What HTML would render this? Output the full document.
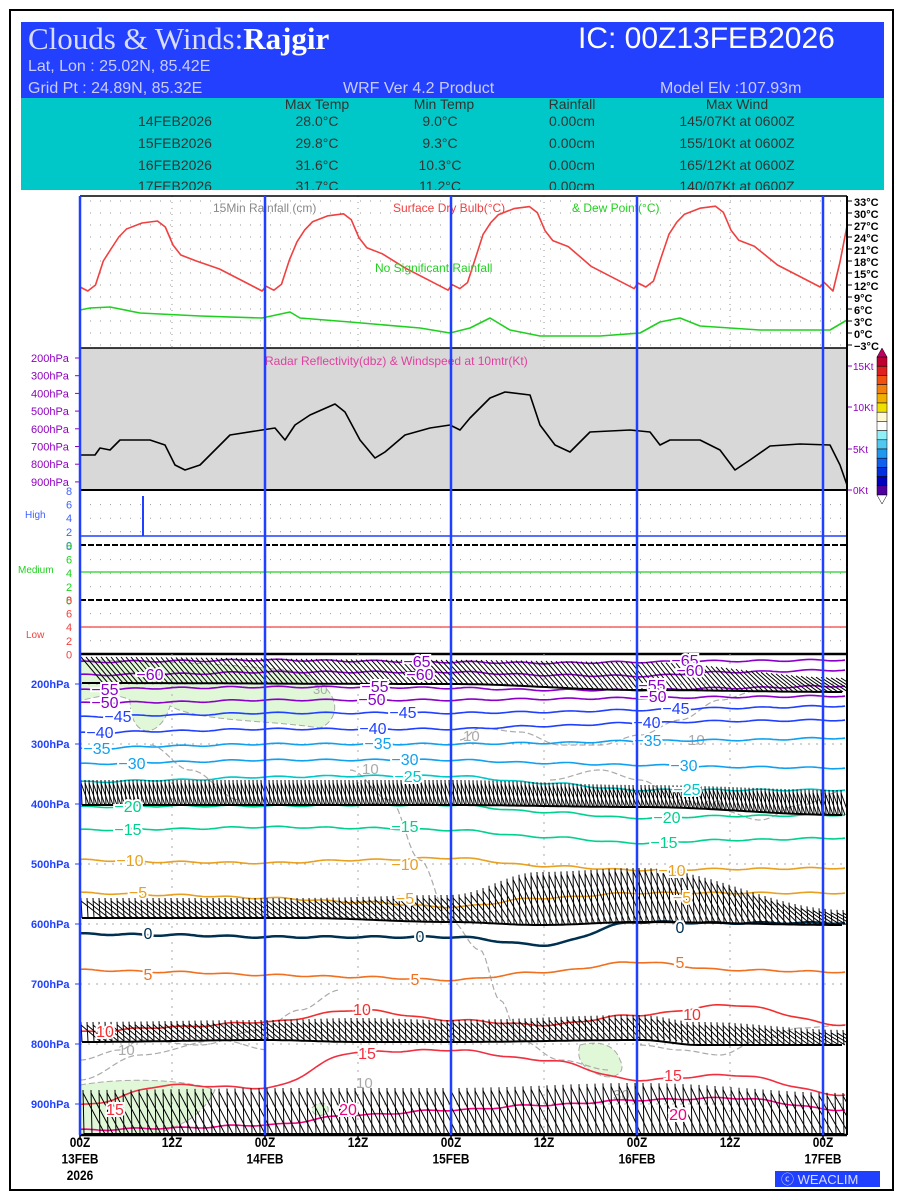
<!DOCTYPE html>
<html><head><meta charset="utf-8"><style>
html,body{margin:0;padding:0;background:#fff}
svg{display:block}
text{font-family:"Liberation Sans",sans-serif}
</style></head><body>
<svg id="s" width="900" height="1200" viewBox="0 0 900 1200" xmlns="http://www.w3.org/2000/svg">
<defs><clipPath id="cp"><rect x="80" y="654" width="767" height="481"/></clipPath></defs>
<rect x="0" y="0" width="900" height="1200" fill="#fff"/>
<rect x="10" y="10" width="883" height="1180" fill="none" stroke="#000" stroke-width="2"/>
<rect x="21" y="22" width="863" height="77" fill="#2340ff"/>
<rect x="21" y="98" width="863" height="92" fill="#00c8c8"/>
<text x="28" y="49" font-size="31" fill="#d8dcff" style="font-family:'Liberation Serif',serif">Clouds &amp; Winds:<tspan fill="#fff" font-weight="bold">Rajgir</tspan></text>
<text x="578" y="48" font-size="30" fill="#fff">IC: 00Z13FEB2026</text>
<g font-size="16" fill="#c8ccff">
<text x="28" y="71">Lat, Lon : 25.02N, 85.42E</text>
<text x="28" y="93">Grid Pt  : 24.89N, 85.32E</text>
<text x="343" y="93">WRF Ver 4.2 Product</text>
<text x="660" y="93">Model Elv :107.93m</text>
</g>
<g font-size="14" fill="#333" text-anchor="middle">
<text x="317" y="109">Max Temp</text><text x="444" y="109">Min Temp</text><text x="572" y="109">Rainfall</text><text x="737" y="109">Max Wind</text>
<text x="175" y="126">14FEB2026</text><text x="317" y="126">28.0°C</text><text x="440" y="126">9.0°C</text><text x="572" y="126">0.00cm</text><text x="737" y="126">145/07Kt at 0600Z</text>
<text x="175" y="148">15FEB2026</text><text x="317" y="148">29.8°C</text><text x="440" y="148">9.3°C</text><text x="572" y="148">0.00cm</text><text x="737" y="148">155/10Kt at 0600Z</text>
<text x="175" y="170">16FEB2026</text><text x="317" y="170">31.6°C</text><text x="440" y="170">10.3°C</text><text x="572" y="170">0.00cm</text><text x="737" y="170">165/12Kt at 0600Z</text>
<text x="175" y="191">17FEB2026</text><text x="317" y="191">31.7°C</text><text x="440" y="191">11.2°C</text><text x="572" y="191">0.00cm</text><text x="737" y="191">140/07Kt at 0600Z</text>
</g>
<rect x="21" y="190" width="863" height="6" fill="#fff"/>
<rect x="80" y="348" width="767" height="142" fill="#d8d8d8"/>
<g id="g"></g>
</svg>
<script>
var S=document.getElementById('g'),H='';
function pl(p,c,w,extra){var d='M'+p.map(function(q){return q[0].toFixed(1)+','+q[1].toFixed(1)}).join('L');H+='<path d="'+d+'" fill="none" stroke="'+c+'" stroke-width="'+w+'" stroke-linejoin="round" '+(extra||'')+'/>';}
function ln(a,b,c,d,col,w,ex){H+='<line x1="'+a.toFixed(1)+'" y1="'+b.toFixed(1)+'" x2="'+c.toFixed(1)+'" y2="'+d.toFixed(1)+'" stroke="'+col+'" stroke-width="'+w+'" '+(ex||'')+'/>';}
function tx(x,y,t,c,s,ex){H+='<text x="'+x+'" y="'+y+'" fill="'+c+'" font-size="'+s+'" '+(ex||'')+'>'+t+'</text>';}
function interp(xs,ys,x){for(var i=0;i<xs.length-1;i++){if(x<=xs[i+1]){var f=(x-xs[i])/(xs[i+1]-xs[i]);f=(1-Math.cos(f*Math.PI))/2;return ys[i]+f*(ys[i+1]-ys[i]);}}return ys[ys.length-1];}
function curve(xs,ys,c,w,wob,ex){var p=[];for(var x=xs[0];x<=xs[xs.length-1];x+=3){p.push([x,interp(xs,ys,x)+(wob?Math.sin(x*0.13)*wob:0)]);}pl(p,c,w,ex);}
var X0=80,PH=7.75;
for(var T=33;T>=-3;T-=3){var y=201+(33-T)*4;ln(80,y,847,y,'#999',1,'stroke-dasharray="1,9"');ln(847,y,852,y,'#000',1);tx(854,y+5,(T<0?'−':'')+Math.abs(T)+'°C','#000',11,'font-weight="bold"');}
[172,358,544,730].forEach(function(x){ln(x,196,x,348,'#999',1,'stroke-dasharray="1,5"');});
var tp=[];var mx=[28,29.8,31.6,31.7,31],mn=[10,10.2,10.6,11,11.2];
var sh=[[0,1.5,0],[1,0.5,0],[2,2,0],[3,8,0],[4,-7,1],[5,-4,1],[6,-2,1],[8,-0.5,1],[10,0,1],[11,-1.5,1],[12,-6,1],[13,-8.5,1],[15,-10,1],[18,6,0],[21,3,0],[23.5,0.5,0]];
for(var d=0;d<5;d++){sh.forEach(function(s){var h=d*24+s[0];if(h>96.5)return;var T=s[2]?mx[d]+s[1]:mn[d]+s[1];tp.push([X0+h*PH,201+(33-T)*4]);});}
tp.push([833,291]);tp.push([840,262]);tp.push([847,226]);
pl(tp,'#f04040',1.6);
var dw=[[80,310],[90,308],[110,307],[140,313],[200,316],[262,318],[290,312],[300,318],[350,322],[420,328],[450,333],[470,328],[490,318],[510,330],[540,336],[600,336],[640,333],[660,322],[680,318],[700,326],[760,330],[830,330],[847,320]];
pl(dw,'#20d020',1.6);
tx(213,212,'15Min Rainfall (cm)','#888',12);tx(393,212,'Surface Dry Bulb(°C)','#f04040',12);tx(572,212,'&amp; Dew Point(°C)','#20d020',12);
tx(375,272,'No Significant Rainfall','#20d020',12);
var py=['200hPa','300hPa','400hPa','500hPa','600hPa','700hPa','800hPa','900hPa'];
py.forEach(function(t,i){var y=358+i*17.7;tx(31,y+4,t,'#9000c0',11);ln(75,y,80,y,'#9000c0',1);});
[[0,490],[5,449],[10,407],[15,366]].forEach(function(a){ln(847,a[1],852,a[1],'#9000c0',1);tx(853,a[1]+4,a[0]+'Kt','#9000c0',10);});
tx(265,365,'Radar Reflectivity(dbz) &amp; Windspeed at 10mtr(Kt)','#e040a0',12);
var rd=[[80,455],[95,455],[100,448],[110,450],[120,440],[150,440],[165,445],[175,465],[185,470],[200,465],[215,450],[230,435],[262,430],[275,428],[285,440],[295,425],[310,415],[335,404],[345,412],[360,440],[375,458],[385,452],[405,435],[430,428],[450,425],[460,430],[470,418],[490,398],[505,392],[530,395],[540,425],[555,445],[570,452],[590,432],[630,430],[650,432],[660,445],[670,440],[700,440],[720,450],[735,470],[750,460],[770,446],[800,444],[830,445],[840,465],[847,485]];
pl(rd,'#000',1.6);
var cb=['#c00030','#e02020','#f05010','#f08010','#f0b000','#f0e000','#fff8d0','#fff','#90f0f8','#50c8f0','#2098f0','#1060f0','#0030e0','#0000c0','#5000a0'];
cb.forEach(function(c,i){H+='<rect x="877" y="'+(357+i*9.2)+'" width="10" height="9.2" fill="'+c+'" stroke="#000" stroke-width="0.5"/>';});
H+='<path d="M877,357 L882,348 L887,357Z" fill="#c00060" stroke="#000" stroke-width="0.5"/><path d="M877,495 L882,504 L887,495Z" fill="#fff" stroke="#000" stroke-width="0.5"/>';
function cpanel(y0,col,lab,ly){for(var v=8;v>=0;v-=2){var y=y0+(8-v)*6.8;tx(66,y+4,v,col,11);if(v>0&&v<8)ln(80,y,847,y,'#999',1,'stroke-dasharray="1,9"');}tx(ly[0],ly[1],lab,col,10);}
cpanel(491,'#4060ff','High',[25,518]);cpanel(546,'#20d020','Medium',[18,573]);cpanel(600,'#f04040','Low',[26,638]);
ln(80,536,847,536,'#2040ff',1.5);ln(143,496,143,536,'#2040ff',2);
ln(80,572,847,572,'#20d020',1.2);ln(80,627,847,627,'#f04040',1.2);
ln(80,545,847,545,'#000',2,'stroke-dasharray="6,2"');ln(80,600,847,600,'#000',2,'stroke-dasharray="6,2"');
ln(80,490,847,490,'#000',2);ln(80,654,847,654,'#000',2.5);ln(80,348,847,348,'#000',1.5);ln(80,196,847,196,'#000',1.5);
H+='<g clip-path="url(#cp)">';
H+='<path d="M80,660 C150,660 250,665 300,672 C345,690 340,720 320,728 C270,720 200,722 170,706 C160,740 130,740 130,700 C110,690 90,700 80,700Z" fill="#e0f8d8" stroke="#aaa" stroke-dasharray="6,3"/>';
H+='<path d="M80,1085 C120,1078 180,1078 215,1090 C205,1110 190,1125 150,1135 L80,1135Z" fill="#e0f8d8" stroke="#aaa" stroke-dasharray="6,3"/>';
H+='<path d="M580,1045 C600,1040 615,1045 620,1060 C628,1075 610,1080 600,1075 C585,1070 575,1060 580,1045Z" fill="#e0f8d8" stroke="#aaa" stroke-dasharray="6,3"/>';
H+='<path d="M312,1108 C318,1100 330,1102 328,1112 C322,1118 312,1116 312,1108Z" fill="#e0f8d8" stroke="#aaa" stroke-dasharray="6,3"/>';
var gd='#aaa';
curve([150,190,240,230,190,170,180,240],[745,770,800,850,880,920,980,1040],gd,1.2,0,'stroke-dasharray="6,3"');
curve([80,120,140,200,260,300,340],[1060,1050,1040,1045,1030,1010,990],gd,1.2,0,'stroke-dasharray="6,3"');
curve([350,390,420,450,480,500,520,560,610],[770,800,860,920,950,1000,1040,1060,1070],gd,1.2,0,'stroke-dasharray="6,3"');
curve([460,480,520,560,600,640,680,720,760],[740,728,732,745,745,735,720,700,690],gd,1.2,0,'stroke-dasharray="6,3"');
curve([550,600,640,680,720,760,800,847],[780,770,780,800,810,820,805,790],gd,1.2,0,'stroke-dasharray="6,3"');
curve([640,680,720,760,800,847],[1045,1050,1055,1040,1028,1025],gd,1.2,0,'stroke-dasharray="6,3"');
curve([80,140,220,270],[1080,1055,1040,1050],gd,1.2,0,'stroke-dasharray="6,3"');
tx(118,1055,'10','#aaa',15);tx(356,1088,'10','#aaa',15);tx(463,741,'10','#aaa',15);tx(362,774,'10','#aaa',15);tx(688,745,'10','#aaa',15);tx(705,810,'10','#aaa',15);tx(613,1100,'30','#aaa',15);tx(313,694,'30','#aaa',13);
H+='</g>';
for(var i=0;i<8;i++){var y=684+i*60;ln(80,y,847,y,'#aaa',1,'stroke-dasharray="2,6"');tx(31,y+4,(i+2)+'00hPa','#2040ff',11,'font-weight="bold"');ln(75,y,80,y,'#2040ff',1);}
[172,358,544,730].forEach(function(x){ln(x,654,x,1135,'#aaa',1,'stroke-dasharray="2,6"');});
var XS=[80,172,265,358,451,544,637,730,847];
var iso=[
['-65','#8a00c8',[662,661,660,661,662,663,662,661,660]],
['-60','#8a00c8',[675,674,672,672,672,675,676,672,670]],
['-55','#8a00c8',[690,688,687,687,688,690,690,688,686]],
['-50','#8a00c8',[703,702,700,700,700,699,698,697,696]],
['-45','#2040ff',[717,715,713,713,713,712,710,708,706]],
['-40','#2040ff',[733,731,729,729,729,726,723,721,720]],
['-35','#10a0f0',[749,746,744,744,744,743,741,740,738]],
['-30','#10a0f0',[764,762,760,760,760,763,765,767,768]],
['-25','#00c8c8',[782,780,777,776,776,783,790,790,790]],
['-20','#00d090',[807,806,806,805,805,812,818,816,815]],
['-15','#00d090',[830,829,827,828,830,837,843,840,838]],
['-10','#e8a020',[860,862,863,860,858,866,870,869,868]],
['-5','#e8a020',[893,895,898,902,907,898,893,893,893]],
['0','#003050',[934,935,937,937,937,945,922,923,923]],
['5','#f07020',[970,972,975,977,980,972,962,970,972]],
['10','#f03030',[1032,1027,1022,1010,1020,1025,1015,1005,1025]],
['15','#f03040',[1105,1085,1088,1052,1050,1060,1080,1075,1095]],
['20','#f00080',[1130,1128,1125,1115,1110,1105,1100,1098,1110]]];
H+='<g clip-path="url(#cp)">';
iso.forEach(function(a){curve(XS,a[2],a[1],a[0]=='0'?2.5:1.6,0.8);});
function band(xa,xb,top,bot,step,slant,staff){for(var x=xa;x<=xb;x+=step){var yt=interp(top[0],top[1],x),yb=interp(bot[0],bot[1],x);if(staff)ln(x,yb,x-1,yt,'#000',1);ln(x-1,yt+(staff?3:0),x-1+slant,yb,'#000',1);}var p=[];for(var x=xa;x<=xb;x+=4)p.push([x,interp(bot[0],bot[1],x)]);pl(p,'#000',2);}
band(82,845,[[80,450,640,847],[657,660,662,678]],[[80,450,640,847],[683,684,690,692]],5,22,0);
band(82,845,[[80,450,640,847],[780,780,785,790]],[[80,450,640,847],[805,805,807,815]],4,8,1);
band(82,845,[[80,300,451,540,640,847],[898,898,895,872,868,910]],[[80,300,451,540,640,847],[918,918,922,925,922,925]],6,22,1);
band(82,845,[[80,265,360,451,640,700,847],[1022,1020,1018,1020,1015,1022,1030]],[[80,265,360,451,640,700,847],[1042,1040,1042,1042,1040,1045,1045]],6,20,1);
band(84,845,[[80,300,451,640,847],[1090,1088,1088,1083,1093]],[[80,300,451,640,847],[1134,1134,1134,1134,1134]],8,22,1);
H+='</g>';
var labs={'-65':[[417,667],[685,666]],'-60':[[150,680],[420,680],[690,676]],'-55':[[105,695],[375,692],[652,691]],'-50':[[105,708],[372,705],[653,702]],'-45':[[118,722],[403,718],[676,714]],'-40':[[100,738],[373,734],[647,728]],'-35':[[97,754],[378,749],[648,746]],'-30':[[132,769],[405,765],[684,771]],'-25':[[408,782],[687,795]],'-20':[[128,812],[667,823]],'-15':[[128,835],[405,832],[664,848]],'-10':[[130,866],[405,870],[672,876]],'-5':[[138,898],[405,904],[682,903]],'0':[[148,939],[420,942],[680,933]],'5':[[148,980],[415,985],[680,968]],'10':[[105,1037],[362,1015],[692,1020]],'15':[[115,1115],[367,1059],[673,1081]],'20':[[348,1115],[678,1120]]};
iso.forEach(function(a){(labs[a[0]]||[]).forEach(function(p){var t=a[0].charAt(0)=='-'?'−'+a[0].slice(1):a[0];tx(p[0],p[1],t,a[1],16,'text-anchor="middle" stroke="#fff" stroke-width="4" paint-order="stroke"');});});
ln(80,654,80,1135,'#000',1.5);ln(847,196,847,1135,'#000',2);ln(80,1135,847,1135,'#000',2.5);
[80,265,451,637,823].forEach(function(x){ln(x,196,x,1135,'#2040ff',2.5);});
var xl=[[80,'00Z','13FEB','2026'],[172,'12Z'],[265,'00Z','14FEB'],[358,'12Z'],[451,'00Z','15FEB'],[544,'12Z'],[637,'00Z','16FEB'],[730,'12Z'],[823,'00Z','17FEB']];
xl.forEach(function(a){ln(a[0],1135,a[0],1140,'#000',1.5);for(var i=1;i<a.length;i++)tx(a[0],1147+(i-1)*16.5,a[i],'#000',14,'text-anchor="middle" font-weight="bold" transform="translate('+a[0]+',0) scale(0.85,1) translate('+(-a[0])+',0)"');});
H+='<rect x="775" y="1171" width="105" height="16" fill="#2040ff"/>';
tx(781,1184,'ⓒ WEACLIM','#d8dcff',13);
S.innerHTML=H;
</script>
</body></html>
